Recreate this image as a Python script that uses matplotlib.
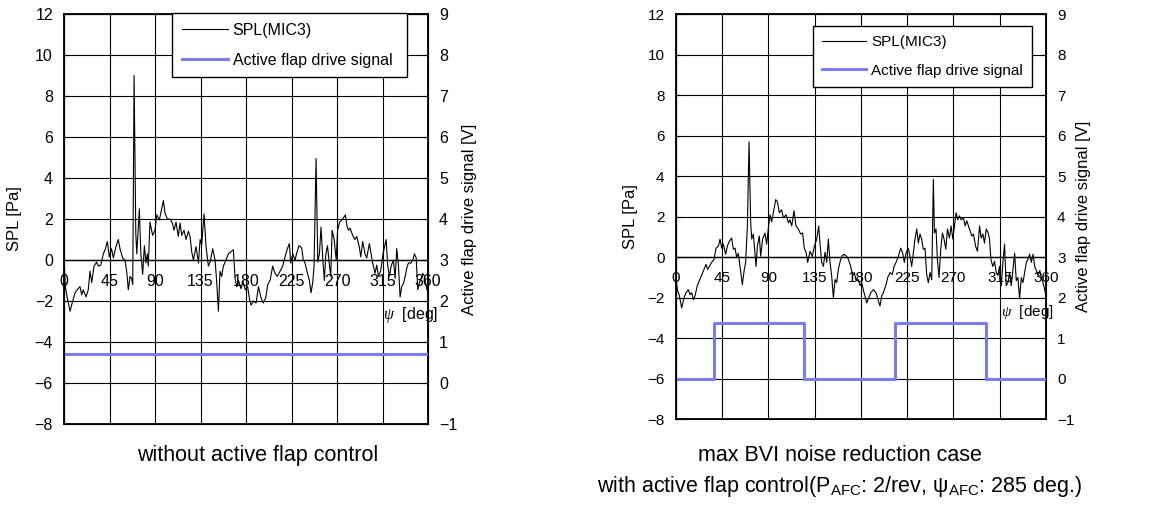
import matplotlib
matplotlib.use("Agg")
import matplotlib.pyplot as plt
import numpy as np

plt.rcParams['font.family'] = ['Liberation Sans', 'DejaVu Sans']
plt.rcParams['mathtext.fontset'] = 'custom'
plt.rcParams['mathtext.rm'] = 'Liberation Sans'
plt.rcParams['mathtext.it'] = 'Liberation Serif:italic'

# ---------------- data ----------------
deg_ticks = [0, 45, 90, 135, 180, 225, 270, 315, 360]
deg_labels = ['0', '45', '90', '135', '180', '225', '270', '315', '360']
spl_ticks = [-8, -6, -4, -2, 0, 2, 4, 6, 8, 10, 12]
volt_ticks = [-1, 0, 1, 2, 3, 4, 5, 6, 7, 8, 9]

# without active flap control
psi_off = [0, 1.3, 3.6, 6, 8.6, 10.9, 13, 15.8, 17.5, 19, 21.8, 24, 25.7, 27.4, 29.7, 32.3, 34, 36.3,
           38.9, 41, 42.9, 44.8, 47, 48.8, 51.4, 53.7, 55.4, 58, 60.3, 62, 63.6, 65.3, 66.9, 68, 69.3,
           71, 72, 74.5, 76, 77.8, 79.5, 81, 82.4, 83.4, 85, 87.7, 90, 91.7, 94.3, 96.6, 98.3, 99.9,
           102.2, 104.8, 107.2, 108.8, 110.8, 113, 114.8, 116.4, 118.7, 120.7, 123, 124.7, 126.3, 128,
           130.6, 133, 134.6, 136.2, 138.5, 140.5, 142.8, 144.5, 147.1, 149.4, 151, 152.7, 154.3, 156,
           157.6, 160.2, 162.5, 165, 167.5, 169.2, 170.8, 172.6, 175, 177, 179.3, 181.6, 183.6, 185,
           187.3, 190, 192.3, 194.6, 197, 199.5, 201.5, 203.8, 206.4, 208.7, 211, 213.6, 216.3, 218.6,
           220.9, 222.9, 224.2, 226.2, 228.5, 230, 232.4, 235, 236.7, 238.4, 240, 242.7, 244.3, 246,
           247.3, 249.3, 251, 252.6, 254.2, 256, 257.5, 259, 260.6, 262.6, 263.8, 265.2, 267.2, 269.2,
           270.6, 272.6, 274.9, 277, 278.4, 279.7, 281.3, 283, 285.5, 287.8, 289.5, 292, 293.5, 295.4,
           297.7, 299.4, 302, 303.4, 305.3, 307.6, 309.3, 311, 313.3, 315.3, 316.6, 318.6, 320.2, 321.9,
           323.5, 325.8, 327.5, 329.1, 330.8, 332.4, 334, 335.7, 337.4, 339, 340.6, 343, 345, 346.6,
           348.3, 349.9, 351.6, 353.2, 354.8, 356.5, 358.2, 360]
spl_off = [0.1, -1.3, -1.95, -2.5, -2.0, -1.6, -1.45, -1.3, -1.7, -1.45, -1.8, -1.45, -0.55, -1.1, -0.3,
           -0.1, -0.3, -0.25, 0.3, 0.55, 0.9, 0.15, 0.55, 0.1, 0.65, 1.0, 0.55, 0.1, 0.0, -0.55, -1.45,
           -0.8, -0.9, -1.2, 9.0, 1.3, 0.3, 2.5, 0.3, -0.7, 0.7, -0.15, 0.3, -0.3, 1.85, 1.2, 1.45, 2.2,
           1.95, 2.5, 2.9, 2.3, 2.0, 2.0, 1.8, 1.45, 1.85, 1.15, 1.8, 1.2, 1.45, 1.0, 1.4, 1.15, 0.4, 0.0,
           0.65, -0.15, 1.0, 0.75, 2.25, 0.65, -0.3, -0.1, 0.55, 0.0, -1.05, -2.5, -0.55, -0.8, -0.3, 0.0,
           0.3, 0.4, 0.5, -0.9, -1.3, -1.0, -1.4, -1.05, -1.45, -1.3, -1.95, -2.2, -2.0, -2.1, -1.3, -1.8,
           -2.1, -1.85, -1.2, -1.0, -0.3, -0.65, -0.8, -0.55, -0.3, 0.15, 0.55, 0.8, -0.15, 0.3, 0.0, 0.3,
           0.7, 0.6, 0.0, -0.15, -0.5, -1.0, -1.6, -1.1, -0.3, 4.95, -0.1, 0.3, 1.6, 0.0, -1.0, 0.3, 0.7,
           -0.3, -0.8, 1.45, 1.0, 0.0, 1.45, 1.85, 1.95, 2.1, 2.2, 1.7, 1.45, 1.55, 1.2, 1.0, 1.15, 0.65,
           0.15, 0.9, 0.3, 0.1, 0.8, 0.4, -0.15, -0.65, -0.25, -0.8, -0.5, 0.25, 0.55, 1.0, -0.3, -0.8,
           -0.3, 0.0, -0.9, 0.55, -0.3, -1.8, -1.3, -1.15, -0.8, -0.4, -0.15, -0.15, 0.0, 0.3, 0.1, -1.45,
           -1.1, -0.9, -0.65, -0.8, -1.3, -1.6]
flap_off_deg = [0, 360]
flap_off_volt = [0.7, 0.7]

# with active flap control
psi_on = [0, 1.6, 3.6, 5.8, 8.1, 10, 12.3, 13.9, 15.6, 17.2, 18.8, 21, 23, 25.3, 27.5, 29.5, 31.1, 32.7,
          35, 37.3, 39.2, 41.5, 43.1, 44.7, 46.3, 48.6, 50.2, 52.2, 54.4, 56, 57.7, 59.3, 60.9, 62.5,
          64.8, 66.4, 68, 69.7, 71.3, 72.9, 73.9, 75.5, 78.1, 79.4, 81.3, 82.6, 84.5, 86.8, 88.4, 90,
          91.7, 93.3, 94.9, 97.2, 98.8, 100.8, 103, 104.7, 107.3, 109.6, 111.1, 112.8, 115, 116.9, 119.2,
          121.5, 123.4, 125, 126.7, 128.3, 130.6, 132.8, 134.8, 137.1, 139, 140.3, 141.9, 143.6, 145.2,
          146.8, 148.4, 150, 151.6, 153.3, 154.9, 156.5, 158.1, 159.7, 161.4, 163.6, 166.2, 167.9, 170.1,
          172.1, 173.7, 175.3, 177.6, 179.2, 180.8, 183.1, 185.7, 187.6, 189.6, 192.2, 194.8, 197, 198.6,
          200.3, 201.9, 204.5, 206.1, 208.4, 210.6, 212.3, 214.2, 216.5, 218.7, 220.7, 222.3, 223.9,
          226.1, 227.8, 229.4, 231, 232.6, 234.3, 235.9, 237.5, 239.1, 240.7, 242.4, 244, 245.6, 247.3,
          248.9, 250.5, 251.5, 253.1, 254.4, 256, 257.7, 259.3, 260.9, 262.6, 264.2, 266.1, 267.7, 269.4,
          271, 272.6, 274.2, 275.8, 277.5, 279.8, 281.4, 283, 285.6, 287.9, 289.5, 291.5, 293.4, 295.4,
          297, 298.6, 300.2, 301.9, 303.8, 305.1, 306.4, 308.3, 310, 311.6, 313.2, 314.8, 316.5, 318.1,
          319.7, 321.3, 323, 324.6, 326.2, 327.8, 329.5, 331.1, 332.7, 334.3, 336, 337.6, 339.2, 340.9,
          342.5, 344.1, 345.7, 347.4, 349, 350.6, 352.3, 353.9, 356.2, 357.8, 360]
spl_on = [-0.9, -1.6, -1.9, -2.5, -2.0, -1.75, -1.6, -1.85, -1.75, -2.1, -1.9, -1.4, -1.15, -0.85, -0.6,
          -0.35, -0.6, -0.45, -0.25, -0.1, 0.45, 0.55, 0.9, 0.45, 0.65, 0.15, 0.55, 0.8, 0.95, 0.4, 0.45,
          0.0, 0.2, -0.45, -1.35, -0.7, -0.25, 1.55, 5.7, 1.7, 0.9, 1.15, -0.45, 0.55, 1.05, 0.05, 0.9,
          1.2, 0.65, 1.4, 2.1, 1.75, 2.2, 2.85, 2.75, 2.2, 2.35, 1.95, 2.1, 1.7, 1.85, 1.55, 2.3, 1.55,
          1.4, 1.15, 1.2, 0.45, 0.25, -0.25, 0.3, 0.05, 0.55, 0.9, 1.55, 0.7, -0.25, -0.45, 0.25, -0.25,
          0.9, -0.25, -0.9, -2.0, -1.1, -1.25, -0.6, -0.25, 0.05, 0.15, 0.05, -0.1, -0.45, -0.9, -0.75,
          -1.15, -1.1, -1.4, -1.25, -1.75, -2.25, -2.0, -1.75, -1.6, -1.75, -2.15, -2.4, -1.9, -1.75,
          -1.35, -1.0, -0.75, -0.85, -0.45, -0.25, 0.05, 0.45, 0.2, -0.25, 0.2, 0.45, 0.05, -0.45, 0.2,
          0.9, 1.4, 0.7, 1.15, 0.9, 0.4, 0.45, -0.85, -1.25, -0.75, -1.1, 3.85, 1.2, 1.4, -0.1, -1.0, 0.4,
          1.2, 0.9, 0.4, 1.4, 0.95, 1.55, 0.9, 1.55, 2.2, 1.85, 2.05, 1.85, 1.95, 1.55, 1.8, 1.4, 1.05,
          1.15, 0.55, 0.3, 1.55, 0.95, 1.15, 0.7, 1.4, 1.2, 0.9, -0.1, -0.45, -0.2, -0.75, -0.9, -0.45,
          -1.4, -0.25, 0.65, -1.4, -1.25, -0.75, -1.4, -0.65, 0.2, -1.15, -1.0, -2.05, -1.0, -1.25, -0.75,
          -0.25, -0.1, 0.15, -0.25, 0.15, -0.45, -0.65, -0.9, -0.65, -1.1, -1.4, -1.9]
flap_on_deg = [0, 37.3, 125.1, 213.2, 301.7, 360]
flap_on_volt = [0, 1.37, 0, 1.37, 0, 0]

captions = ["without active flap control",
            "max BVI noise reduction case\n"
            "with active flap control(P$\\mathregular{_{AFC}}$: 2/rev, ψ$\\mathregular{_{AFC}}$: 285 deg.)"]

FLAP_COLOR = '#7b7cf0'

W, H = 1159, 509
fig = plt.figure(figsize=(W / 100, H / 100), dpi=100)


def make_panel(rect, psi, spl, fdeg, fvolt, step, fs, lfs, leg_box, ylab_x, y2lab_x, psi_pos):
    ax = fig.add_axes(rect)
    ax.plot(psi, spl, color='black', lw=0.8, label='SPL(MIC3)')
    ax.set_xlim(0, 360)
    ax.set_ylim(-8, 12)
    ax.set_xticks(deg_ticks)
    ax.set_yticks(spl_ticks)
    ax.grid(True, color='black', lw=0.8)
    ax.axhline(0, color='black', lw=1.0)
    ax.tick_params(axis='x', labelbottom=False, length=0)
    ax.tick_params(axis='y', direction='in', length=4, labelsize=fs, pad=8)
    for s in ax.spines.values():
        s.set_linewidth(1.3)
    ax.set_ylabel('SPL [Pa]', fontsize=12)
    ax.yaxis.set_label_coords(ylab_x, 0.5)
    ax.yaxis.label.set_va('center')
    ax.set_xlabel('$\\it{\\psi}$  [deg]', fontsize=fs)
    ax.xaxis.set_label_coords(*psi_pos)
    ax.xaxis.label.set_ha('right')
    ax.xaxis.label.set_va('center')

    sec = ax.secondary_xaxis(0.4)
    sec.set_xticks(deg_ticks, deg_labels)
    sec.tick_params(length=0, pad=10, labelsize=fs)
    sec.spines['bottom'].set_visible(False)

    ax2 = ax.twinx()
    ax2.set_ylim(-1, 9)
    ax2.set_yticks(volt_ticks)
    ax2.tick_params(axis='y', direction='in', length=4, labelsize=fs, pad=8)
    if step:
        ax2.plot(fdeg, fvolt, color=FLAP_COLOR, lw=2.2, drawstyle='steps-post',
                 label='Active flap drive signal')
    else:
        ax2.plot(fdeg, fvolt, color=FLAP_COLOR, lw=2.2, label='Active flap drive signal')
    ax2.set_ylabel('Active flap drive signal [V]', fontsize=12)
    ax2.yaxis.set_label_coords(y2lab_x, 0.5)
    ax2.yaxis.label.set_va('center')

    h1, l1 = ax.get_legend_handles_labels()
    h2, l2 = ax2.get_legend_handles_labels()
    x0, y0, x1, y1 = leg_box
    leg = ax2.legend(h1 + h2, l1 + l2, loc='upper left',
                     bbox_to_anchor=(x0 / W, 1 - y1 / H, (x1 - x0) / W, (y1 - y0) / H),
                     bbox_transform=fig.transFigure, mode='expand', borderaxespad=0,
                     fancybox=False, edgecolor='black', framealpha=1, fontsize=lfs,
                     handlelength=2.9, handletextpad=0.3, borderpad=0.6, labelspacing=0.95)
    leg.get_frame().set_linewidth(1.0)
    return ax


make_panel([64 / W, 1 - 424 / H, 364 / W, 410 / H], psi_off, spl_off, flap_off_deg, flap_off_volt,
           False, 11.5, 11.5, (172, 13, 407, 79), -0.135, 1.113, (1.028, 0.266))
make_panel([675.7 / W, 1 - 419.3 / H, 370.3 / W, 405 / H], psi_on, spl_on, flap_on_deg, flap_on_volt,
           True, 11, 11, (813, 26, 1032, 91), -0.123, 1.10, (1.02, 0.265))

fig.text(258 / W, 1 - 455 / H, captions[0], ha='center', va='center', fontsize=15.5)
fig.text(840 / W, 1 - 472 / H, captions[1], ha='center', va='center', fontsize=15.5,
         linespacing=1.45)

fig.savefig('out.png', dpi=100)
